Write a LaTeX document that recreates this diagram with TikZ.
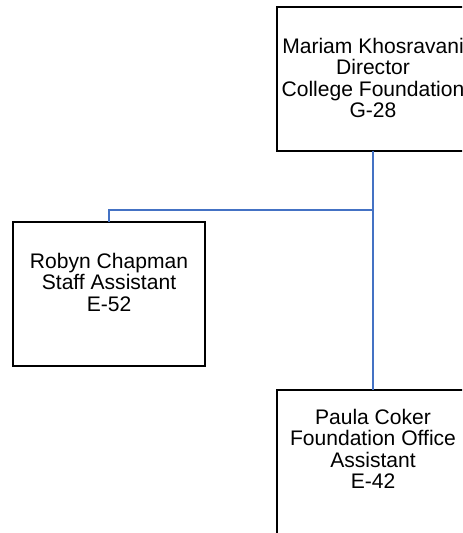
\documentclass[tikz,border=0pt]{standalone}
\usepackage{fontspec}
\setmainfont{Liberation Sans}
\definecolor{linkblue}{HTML}{4472C4}
\begin{document}
\begin{tikzpicture}[x=0.75pt,y=-0.75pt,
  box/.style={draw=black,line width=1.5pt,minimum width=192*0.75pt,minimum height=144*0.75pt,inner sep=0pt,outer sep=0pt},
  lbl/.style={anchor=north,inner sep=0pt,align=center,font=\fontsize{15.8pt}{16.2pt}\selectfont},
  link/.style={draw=linkblue,line width=1.5pt}]
\clip (0,0) rectangle (462,533);
\useasboundingbox (0,0) rectangle (462,533);
% boxes
\node[box] (dir) at (373,79) {};
\node[box] (staff) at (109,294) {};
\node[box] (office) at (373,462) {};
% labels
\node[lbl] (tdir) at (373,37.5) {Mariam Khosravani\\Director\\College Foundation\\G-28};
\node[lbl] (tstaff) at (109,252.5) {Robyn Chapman\\Staff Assistant\\E-52};
\node[lbl] (toffice) at (373,408.5) {Paula Coker\\Foundation Office\\Assistant\\E-42};
% connectors
\coordinate (junc) at (373,210);
\draw[link] (dir.south) -- (office.north);
\draw[link] (junc) -| (staff.north);
\end{tikzpicture}
\end{document}
